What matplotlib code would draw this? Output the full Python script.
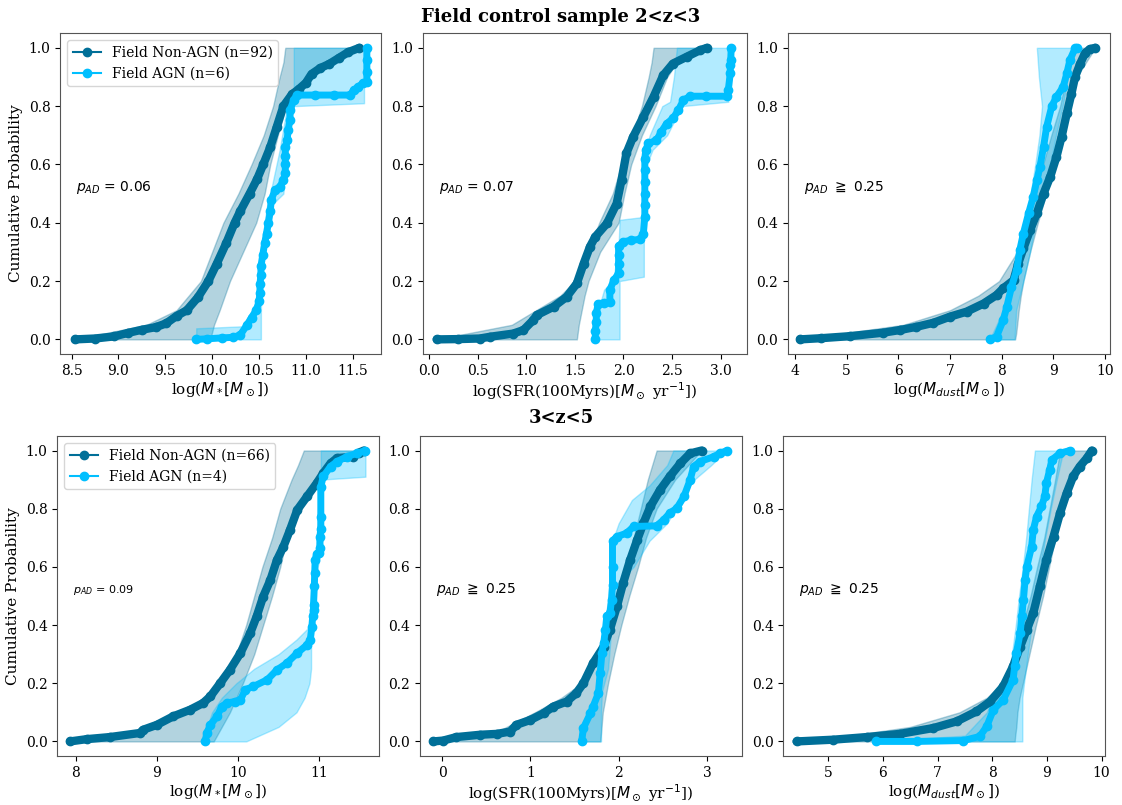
import matplotlib
matplotlib.use("Agg")
import matplotlib.pyplot as plt
from matplotlib.ticker import MultipleLocator

plt.rcParams["font.family"] = "serif"

NON_COLOR = "#006f98"
AGN_COLOR = "#00bfff"

# ---------------- 2<z<3 : stellar mass ----------------
mstar_z2_non_x = [8.54, 8.75, 8.95, 9.10, 9.25, 9.40, 9.51, 9.62, 9.73, 9.85, 9.96, 10.05,
                  10.15, 10.24, 10.30, 10.40, 10.48, 10.545, 10.62, 10.69, 10.76, 10.85,
                  10.93, 11.00, 11.06, 11.15, 11.25, 11.35, 11.45, 11.57]
mstar_z2_non_y = [0.0, 0.003, 0.01, 0.022, 0.033, 0.042, 0.055, 0.08, 0.10, 0.145, 0.20, 0.26,
                  0.33, 0.40, 0.44, 0.50, 0.55, 0.60, 0.66, 0.73, 0.80, 0.84,
                  0.86, 0.88, 0.91, 0.93, 0.945, 0.965, 0.985, 1.0]
mstar_z2_agn_x = [9.83, 9.95, 10.10, 10.22, 10.30, 10.37, 10.42, 10.47, 10.50, 10.51, 10.51,
                  10.52, 10.52, 10.54, 10.56, 10.58, 10.60, 10.62, 10.63, 10.67, 10.72, 10.76,
                  10.78, 10.78, 10.78, 10.78, 10.80, 10.81, 10.83, 10.83, 10.87, 10.90, 11.10,
                  11.30, 11.47, 11.51, 11.56, 11.61, 11.65, 11.65, 11.65, 11.65]
mstar_z2_agn_y = [0.0, 0.002, 0.005, 0.007, 0.015, 0.049, 0.075, 0.10, 0.13, 0.158, 0.19,
                  0.22, 0.25, 0.29, 0.33, 0.363, 0.40, 0.44, 0.478, 0.512, 0.523, 0.546,
                  0.569, 0.60, 0.63, 0.66, 0.683, 0.718, 0.752, 0.786, 0.82, 0.838, 0.838,
                  0.838, 0.838, 0.855, 0.866, 0.88, 0.883, 0.918, 0.958, 1.0]
mstar_z2_non_band_y = [0, 0.05, 0.1, 0.2, 0.3, 0.4, 0.5, 0.6, 0.7, 0.8, 0.9, 0.95, 1.0]
mstar_z2_non_band_lo = [8.54, 9.30, 9.62, 9.88, 10.0, 10.12, 10.28, 10.42, 10.55, 10.65, 10.72, 10.76, 10.78]
mstar_z2_non_band_hi = [9.98, 10.02, 10.08, 10.19, 10.33, 10.47, 10.56, 10.62, 10.70, 10.79, 11.05, 11.25, 11.59]
mstar_z2_agn_band_y = [0, 0.038, 0.045, 0.1, 0.2, 0.3, 0.45, 0.5, 0.65, 0.8, 0.81, 1.0]
mstar_z2_agn_band_lo = [9.83, 9.83, 10.33, 10.45, 10.49, 10.52, 10.58, 10.62, 10.72, 10.80, 10.87, 10.87]
mstar_z2_agn_band_hi = [10.52, 10.52, 10.52, 10.52, 10.53, 10.55, 10.60, 10.76, 10.80, 10.87, 11.62, 11.62]

# ---------------- 2<z<3 : SFR ----------------
sfr_z2_non_x = [0.076, 0.30, 0.52, 0.625, 0.865, 0.97, 1.07, 1.106, 1.28, 1.415, 1.52, 1.59,
                1.655, 1.71, 1.83, 1.93, 1.98, 2.03, 2.10, 2.205, 2.31, 2.41, 2.51, 2.65, 2.79, 2.86]
sfr_z2_non_y = [0.0, 0.001, 0.003, 0.009, 0.02, 0.032, 0.066, 0.083, 0.112, 0.146, 0.192, 0.26,
                0.318, 0.352, 0.398, 0.466, 0.546, 0.638, 0.695, 0.763, 0.832, 0.906, 0.946, 0.969, 0.992, 1.0]
sfr_z2_agn_x = [1.71, 1.71, 1.72, 1.72, 1.74, 1.80, 1.86, 1.86, 1.90, 1.95, 1.95, 1.95, 1.95,
                2.00, 2.08, 2.17, 2.205, 2.22, 2.22, 2.22, 2.22, 2.22, 2.22, 2.23, 2.256, 2.34,
                2.39, 2.445, 2.51, 2.565, 2.617, 2.685, 2.85, 3.063, 3.08, 3.10, 3.10, 3.105, 3.11]
sfr_z2_agn_y = [0.0, 0.03, 0.06, 0.089, 0.123, 0.125, 0.128, 0.169, 0.203, 0.226, 0.26, 0.29, 0.32,
                0.335, 0.34, 0.343, 0.363, 0.42, 0.46, 0.50, 0.54, 0.58, 0.62, 0.65, 0.672, 0.683,
                0.712, 0.74, 0.758, 0.786, 0.82, 0.834, 0.834, 0.834, 0.855, 0.912, 0.94, 0.958, 1.0]
sfr_z2_non_band_y = [0, 0.05, 0.1, 0.15, 0.2, 0.3, 0.4, 0.5, 0.6, 0.7, 0.8, 0.9, 0.95, 1.0]
sfr_z2_non_band_lo = [0.076, 0.85, 1.1, 1.35, 1.50, 1.64, 1.75, 1.89, 1.98, 2.09, 2.19, 2.26, 2.29, 2.31]
sfr_z2_non_band_hi = [1.52, 1.54, 1.57, 1.60, 1.64, 1.76, 1.95, 2.01, 2.08, 2.19, 2.33, 2.45, 2.55, 2.84]
sfr_z2_agn_band_y = [0, 0.1, 0.17, 0.2, 0.215, 0.32, 0.41, 0.42, 0.6, 0.65, 0.7, 0.8, 0.815, 0.9, 1.0]
sfr_z2_agn_band_lo = [1.72, 1.74, 1.80, 1.88, 1.90, 1.95, 1.96, 2.21, 2.22, 2.23, 2.27, 2.40, 2.48, 2.52, 2.55]
sfr_z2_agn_band_hi = [1.96, 1.96, 1.96, 1.96, 2.21, 2.21, 2.21, 2.22, 2.24, 2.30, 2.45, 2.60, 3.08, 3.08, 3.08]

# ---------------- 2<z<3 : dust mass ----------------
mdust_z2_non_x = [4.10, 4.5, 5.06, 5.71, 6.03, 6.35, 6.68, 7.0, 7.32, 7.65, 7.90, 8.03, 8.23, 8.32,
                  8.42, 8.55, 8.68, 8.81, 8.94, 9.06, 9.16, 9.26, 9.35, 9.42, 9.52, 9.61, 9.70, 9.81]
mdust_z2_non_y = [0.0, 0.004, 0.011, 0.023, 0.032, 0.043, 0.057, 0.078, 0.095, 0.123, 0.152, 0.175,
                  0.203, 0.26, 0.312, 0.375, 0.432, 0.50, 0.558, 0.626, 0.695, 0.775, 0.843, 0.90,
                  0.946, 0.981, 0.995, 1.0]
mdust_z2_agn_x = [7.77, 7.90, 8.03, 8.10, 8.19, 8.29, 8.35, 8.42, 8.52, 8.61, 8.68, 8.74, 8.81,
                  8.87, 8.97, 9.06, 9.19, 9.26, 9.32, 9.42, 9.45]
mdust_z2_agn_y = [0.0, 0.009, 0.066, 0.112, 0.18, 0.238, 0.306, 0.363, 0.432, 0.489, 0.546, 0.592,
                  0.66, 0.729, 0.80, 0.832, 0.866, 0.912, 0.958, 0.998, 1.0]
mdust_z2_non_band_y = [0, 0.02, 0.05, 0.1, 0.15, 0.2, 0.3, 0.4, 0.5, 0.6, 0.7, 0.8, 0.9, 1.0]
mdust_z2_non_band_lo = [4.10, 4.9, 6.1, 7.0, 7.55, 7.95, 8.30, 8.50, 8.66, 8.80, 8.96, 9.13, 9.25, 9.39]
mdust_z2_non_band_hi = [8.26, 8.28, 8.30, 8.33, 8.37, 8.42, 8.55, 8.70, 8.86, 9.00, 9.15, 9.30, 9.45, 9.81]
mdust_z2_agn_band_y = [0, 0.1, 0.2, 0.3, 0.4, 0.5, 0.6, 0.7, 0.8, 0.9, 1.0]
mdust_z2_agn_band_lo = [7.77, 8.03, 8.22, 8.33, 8.45, 8.56, 8.65, 8.73, 8.78, 8.72, 8.68]
mdust_z2_agn_band_hi = [8.25, 8.28, 8.42, 8.55, 8.65, 8.82, 8.94, 9.05, 9.18, 9.28, 9.35]

# ---------------- 3<z<5 : stellar mass ----------------
mstar_z3_non_x = [7.93, 8.14, 8.42, 8.79, 8.83, 9.0, 9.20, 9.41, 9.57, 9.66, 9.78, 9.90, 10.03,
                  10.15, 10.23, 10.31, 10.40, 10.48, 10.56, 10.64, 10.73, 10.85, 10.97, 11.05,
                  11.14, 11.22, 11.42, 11.49, 11.55]
mstar_z3_non_y = [0.0, 0.008, 0.015, 0.029, 0.04, 0.057, 0.086, 0.109, 0.132, 0.155, 0.20, 0.246,
                  0.304, 0.372, 0.43, 0.498, 0.556, 0.624, 0.67, 0.727, 0.796, 0.842, 0.888,
                  0.922, 0.956, 0.974, 0.979, 0.993, 1.0]
mstar_z3_agn_x = [9.595, 9.615, 9.66, 9.74, 9.80, 9.86, 9.96, 10.03, 10.09, 10.19, 10.36, 10.48,
                  10.60, 10.73, 10.85, 10.89, 10.91, 10.92, 10.93, 10.93, 10.94, 10.945, 10.95,
                  10.97, 11.00, 11.01, 11.01, 11.02, 11.02, 11.02, 11.05, 11.14, 11.22, 11.34,
                  11.46, 11.57]
mstar_z3_agn_y = [0.0, 0.029, 0.057, 0.086, 0.12, 0.132, 0.137, 0.143, 0.178, 0.189, 0.212, 0.246,
                  0.269, 0.304, 0.332, 0.349, 0.395, 0.43, 0.452, 0.47, 0.533, 0.58, 0.624,
                  0.645, 0.647, 0.665, 0.704, 0.73, 0.773, 0.876, 0.911, 0.945, 0.962, 0.979,
                  0.99, 1.0]
mstar_z3_non_band_y = [0, 0.03, 0.1, 0.15, 0.2, 0.3, 0.4, 0.5, 0.6, 0.7, 0.8, 0.9, 0.95, 1.0]
mstar_z3_non_band_lo = [7.93, 8.8, 9.35, 9.6, 9.8, 9.98, 10.1, 10.2, 10.3, 10.42, 10.52, 10.66, 10.74, 10.81]
mstar_z3_non_band_hi = [9.70, 9.76, 9.90, 9.98, 10.06, 10.2, 10.31, 10.42, 10.52, 10.6, 10.78, 10.95, 11.06, 11.5]
mstar_z3_agn_band_y = [0, 0.05, 0.1, 0.15, 0.2, 0.25, 0.3, 0.35, 0.4, 0.6, 0.62, 0.75, 0.9, 0.91, 1.0]
mstar_z3_agn_band_lo = [9.6, 9.62, 9.68, 9.8, 9.98, 10.2, 10.5, 10.72, 10.9, 10.93, 10.95, 10.98, 11.0, 11.02, 11.02]
mstar_z3_agn_band_hi = [10.1, 10.5, 10.72, 10.82, 10.88, 10.9, 10.9, 10.9, 10.92, 10.98, 11.0, 11.02, 11.02, 11.57, 11.57]

# ---------------- 3<z<5 : SFR ----------------
sfr_z3_non_x = [-0.10, 0.01, 0.16, 0.43, 0.62, 0.77, 0.84, 1.0, 1.15, 1.26, 1.41, 1.52, 1.60,
                1.71, 1.83, 1.90, 1.98, 2.05, 2.13, 2.21, 2.28, 2.36, 2.47, 2.58, 2.70, 2.81, 2.94]
sfr_z3_non_y = [0.0, 0.003, 0.015, 0.023, 0.026, 0.034, 0.057, 0.074, 0.097, 0.12, 0.137, 0.166,
                0.20, 0.269, 0.326, 0.384, 0.464, 0.544, 0.624, 0.693, 0.75, 0.808, 0.865, 0.911,
                0.956, 0.99, 1.0]
sfr_z3_agn_x = [1.58, 1.60, 1.68, 1.71, 1.77, 1.79, 1.81, 1.83, 1.85, 1.865, 1.90, 1.92, 1.93,
                1.93, 1.93, 1.98, 2.09, 2.17, 2.43, 2.51, 2.58, 2.66, 2.74, 2.81, 2.85, 2.92,
                3.08, 3.15, 3.23]
sfr_z3_agn_y = [0.0, 0.046, 0.097, 0.12, 0.166, 0.235, 0.304, 0.338, 0.384, 0.43, 0.441, 0.487,
                0.538, 0.60, 0.69, 0.704, 0.716, 0.739, 0.741, 0.762, 0.785, 0.802, 0.842, 0.899,
                0.945, 0.962, 0.979, 0.991, 1.0]
sfr_z3_non_band_y = [0, 0.03, 0.1, 0.15, 0.2, 0.3, 0.4, 0.5, 0.6, 0.7, 0.8, 0.9, 1.0]
sfr_z3_non_band_lo = [-0.10, 0.6, 1.05, 1.35, 1.58, 1.74, 1.87, 1.99, 2.07, 2.17, 2.25, 2.33, 2.43]
sfr_z3_non_band_hi = [1.79, 1.80, 1.82, 1.85, 1.88, 1.95, 2.03, 2.12, 2.22, 2.31, 2.43, 2.64, 2.94]
sfr_z3_agn_band_y = [0, 0.1, 0.17, 0.25, 0.44, 0.55, 0.6, 0.69, 0.75, 0.83, 0.88, 0.95, 1.0]
sfr_z3_agn_band_lo = [1.60, 1.66, 1.75, 1.78, 1.86, 1.90, 1.93, 1.93, 2.0, 2.15, 2.35, 2.55, 2.62]
sfr_z3_agn_band_hi = [1.80, 1.80, 1.81, 1.88, 1.93, 2.0, 2.17, 2.35, 2.55, 2.70, 2.78, 3.05, 3.22]

# ---------------- 3<z<5 : dust mass ----------------
mdust_z3_non_x = [4.42, 5.09, 5.70, 6.31, 6.92, 7.35, 7.71, 7.96, 8.20, 8.38, 8.51, 8.63, 8.75,
                  8.87, 8.99, 9.12, 9.24, 9.36, 9.48, 9.60, 9.73, 9.82]
mdust_z3_non_y = [0.0, 0.006, 0.015, 0.026, 0.046, 0.069, 0.103, 0.137, 0.189, 0.258, 0.326, 0.384,
                  0.441, 0.533, 0.624, 0.704, 0.785, 0.853, 0.911, 0.945, 0.974, 1.0]
mdust_z3_agn_x = [5.88, 6.62, 7.47, 7.77, 7.90, 8.02, 8.20, 8.38, 8.41, 8.44, 8.51, 8.54, 8.57,
                  8.60, 8.63, 8.72, 8.75, 8.81, 8.90, 8.96, 8.99, 9.05, 9.09, 9.24, 9.42]
mdust_z3_agn_y = [0.0, 0.0, 0.003, 0.017, 0.052, 0.109, 0.143, 0.212, 0.258, 0.304, 0.372, 0.43,
                  0.487, 0.556, 0.60, 0.67, 0.727, 0.773, 0.808, 0.842, 0.888, 0.934, 0.968, 0.991, 1.0]
mdust_z3_non_band_y = [0, 0.02, 0.05, 0.1, 0.15, 0.2, 0.3, 0.4, 0.5, 0.6, 0.7, 0.8, 0.9, 1.0]
mdust_z3_non_band_lo = [4.42, 5.4, 6.5, 7.4, 7.9, 8.2, 8.4, 8.55, 8.7, 8.82, 8.95, 9.05, 9.15, 9.24]
mdust_z3_non_band_hi = [8.41, 8.42, 8.44, 8.46, 8.5, 8.56, 8.68, 8.8, 8.93, 9.04, 9.15, 9.28, 9.45, 9.85]
mdust_z3_agn_band_y = [0, 0.02, 0.1, 0.15, 0.2, 0.3, 0.4, 0.5, 0.6, 0.7, 0.8, 0.9, 1.0]
mdust_z3_agn_band_lo = [5.88, 7.5, 7.9, 8.0, 8.25, 8.36, 8.43, 8.49, 8.56, 8.62, 8.67, 8.72, 8.78]
mdust_z3_agn_band_hi = [8.55, 8.55, 8.55, 8.55, 8.58, 8.65, 8.72, 8.79, 8.88, 8.97, 9.07, 9.18, 9.30]

# sample sizes and AD p-values
n_non = [92, 66]
n_agn = [6, 4]
p_text = [[r"$p_{AD}$ = 0.06", r"$p_{AD}$ = 0.07", r"$p_{AD}$ $\geqq$ 0.25"],
          [r"$p_{AD}$ = 0.09", r"$p_{AD}$ $\geqq$ 0.25", r"$p_{AD}$ $\geqq$ 0.25"]]

xlabels = [r"log($M_*[M_\odot]$)",
           r"log(SFR(100Myrs)[$M_\odot$ yr$^{-1}$])",
           r"log($M_{dust}[M_\odot]$)"]


def draw_panel(ax, non, agn, non_band, agn_band, label_non, label_agn):
    # bootstrap band + ECDF for each sample
    ax.fill_betweenx(non_band[0], non_band[1], non_band[2], color=NON_COLOR, alpha=0.3)
    ax.plot(non[0], non[1], color=NON_COLOR, lw=6, solid_capstyle="round",
            solid_joinstyle="round")
    ax.plot(non[0], non[1], "-o", color=NON_COLOR, lw=1.5, ms=6, label=label_non)
    ax.fill_betweenx(agn_band[0], agn_band[1], agn_band[2], color=AGN_COLOR, alpha=0.3)
    ax.plot(agn[0], agn[1], color=AGN_COLOR, lw=5, solid_capstyle="round",
            solid_joinstyle="round")
    ax.plot(agn[0], agn[1], "-o", color=AGN_COLOR, lw=1.5, ms=6, label=label_agn)


fig = plt.figure(figsize=(11.22, 8.05), dpi=100)

positions = [[(0.0537, 0.5603, 0.2858, 0.3984), (0.3770, 0.5603, 0.2888, 0.3984),
              (0.7023, 0.5603, 0.2870, 0.3984)],
             [(0.0511, 0.0609, 0.2867, 0.3975), (0.3743, 0.0609, 0.2870, 0.3975),
              (0.6981, 0.0609, 0.2867, 0.3975)]]
xlims = [[(8.38, 11.80), (-0.065, 3.273), (3.865, 10.096)],
         [(7.774, 11.737), (-0.253, 3.398), (4.177, 10.061)]]
xsteps = [[0.5, 0.5, 1], [1, 1, 1]]

panels = [
    [((mstar_z2_non_x, mstar_z2_non_y), (mstar_z2_agn_x, mstar_z2_agn_y),
      (mstar_z2_non_band_y, mstar_z2_non_band_lo, mstar_z2_non_band_hi),
      (mstar_z2_agn_band_y, mstar_z2_agn_band_lo, mstar_z2_agn_band_hi)),
     ((sfr_z2_non_x, sfr_z2_non_y), (sfr_z2_agn_x, sfr_z2_agn_y),
      (sfr_z2_non_band_y, sfr_z2_non_band_lo, sfr_z2_non_band_hi),
      (sfr_z2_agn_band_y, sfr_z2_agn_band_lo, sfr_z2_agn_band_hi)),
     ((mdust_z2_non_x, mdust_z2_non_y), (mdust_z2_agn_x, mdust_z2_agn_y),
      (mdust_z2_non_band_y, mdust_z2_non_band_lo, mdust_z2_non_band_hi),
      (mdust_z2_agn_band_y, mdust_z2_agn_band_lo, mdust_z2_agn_band_hi))],
    [((mstar_z3_non_x, mstar_z3_non_y), (mstar_z3_agn_x, mstar_z3_agn_y),
      (mstar_z3_non_band_y, mstar_z3_non_band_lo, mstar_z3_non_band_hi),
      (mstar_z3_agn_band_y, mstar_z3_agn_band_lo, mstar_z3_agn_band_hi)),
     ((sfr_z3_non_x, sfr_z3_non_y), (sfr_z3_agn_x, sfr_z3_agn_y),
      (sfr_z3_non_band_y, sfr_z3_non_band_lo, sfr_z3_non_band_hi),
      (sfr_z3_agn_band_y, sfr_z3_agn_band_lo, sfr_z3_agn_band_hi)),
     ((mdust_z3_non_x, mdust_z3_non_y), (mdust_z3_agn_x, mdust_z3_agn_y),
      (mdust_z3_non_band_y, mdust_z3_non_band_lo, mdust_z3_non_band_hi),
      (mdust_z3_agn_band_y, mdust_z3_agn_band_lo, mdust_z3_agn_band_hi))],
]

for row in range(2):
    for col in range(3):
        ax = fig.add_axes(positions[row][col])
        non, agn, non_band, agn_band = panels[row][col]
        draw_panel(ax, non, agn, non_band, agn_band,
                   f"Field Non-AGN (n={n_non[row]})", f"Field AGN (n={n_agn[row]})")
        ax.set_xlim(*xlims[row][col])
        ax.set_ylim(-0.05, 1.05)
        ax.xaxis.set_major_locator(MultipleLocator(xsteps[row][col]))
        ax.yaxis.set_major_locator(MultipleLocator(0.2))
        ax.tick_params(labelsize=10)
        ax.set_xlabel(xlabels[col], fontsize=11, labelpad=2)
        for s in ax.spines.values():
            s.set_color("#555555")
        fs = 8 if (row == 1 and col == 0) else 10
        ax.text(0.05, 0.52, p_text[row][col], transform=ax.transAxes, fontsize=fs,
                va="center", ha="left", family="sans-serif")
        if col == 0:
            ax.set_ylabel("Cumulative Probability", fontsize=11)
            ax.legend(loc="upper left", fontsize=10)

fig.text(0.5, 1 - 16.7 / 805, "Field control sample 2<z<3", ha="center", va="center",
         fontsize=13, fontweight="bold")
fig.text(0.5, 1 - 418.3 / 805, "3<z<5", ha="center", va="center",
         fontsize=13, fontweight="bold")

fig.savefig("out.png", dpi=100)
